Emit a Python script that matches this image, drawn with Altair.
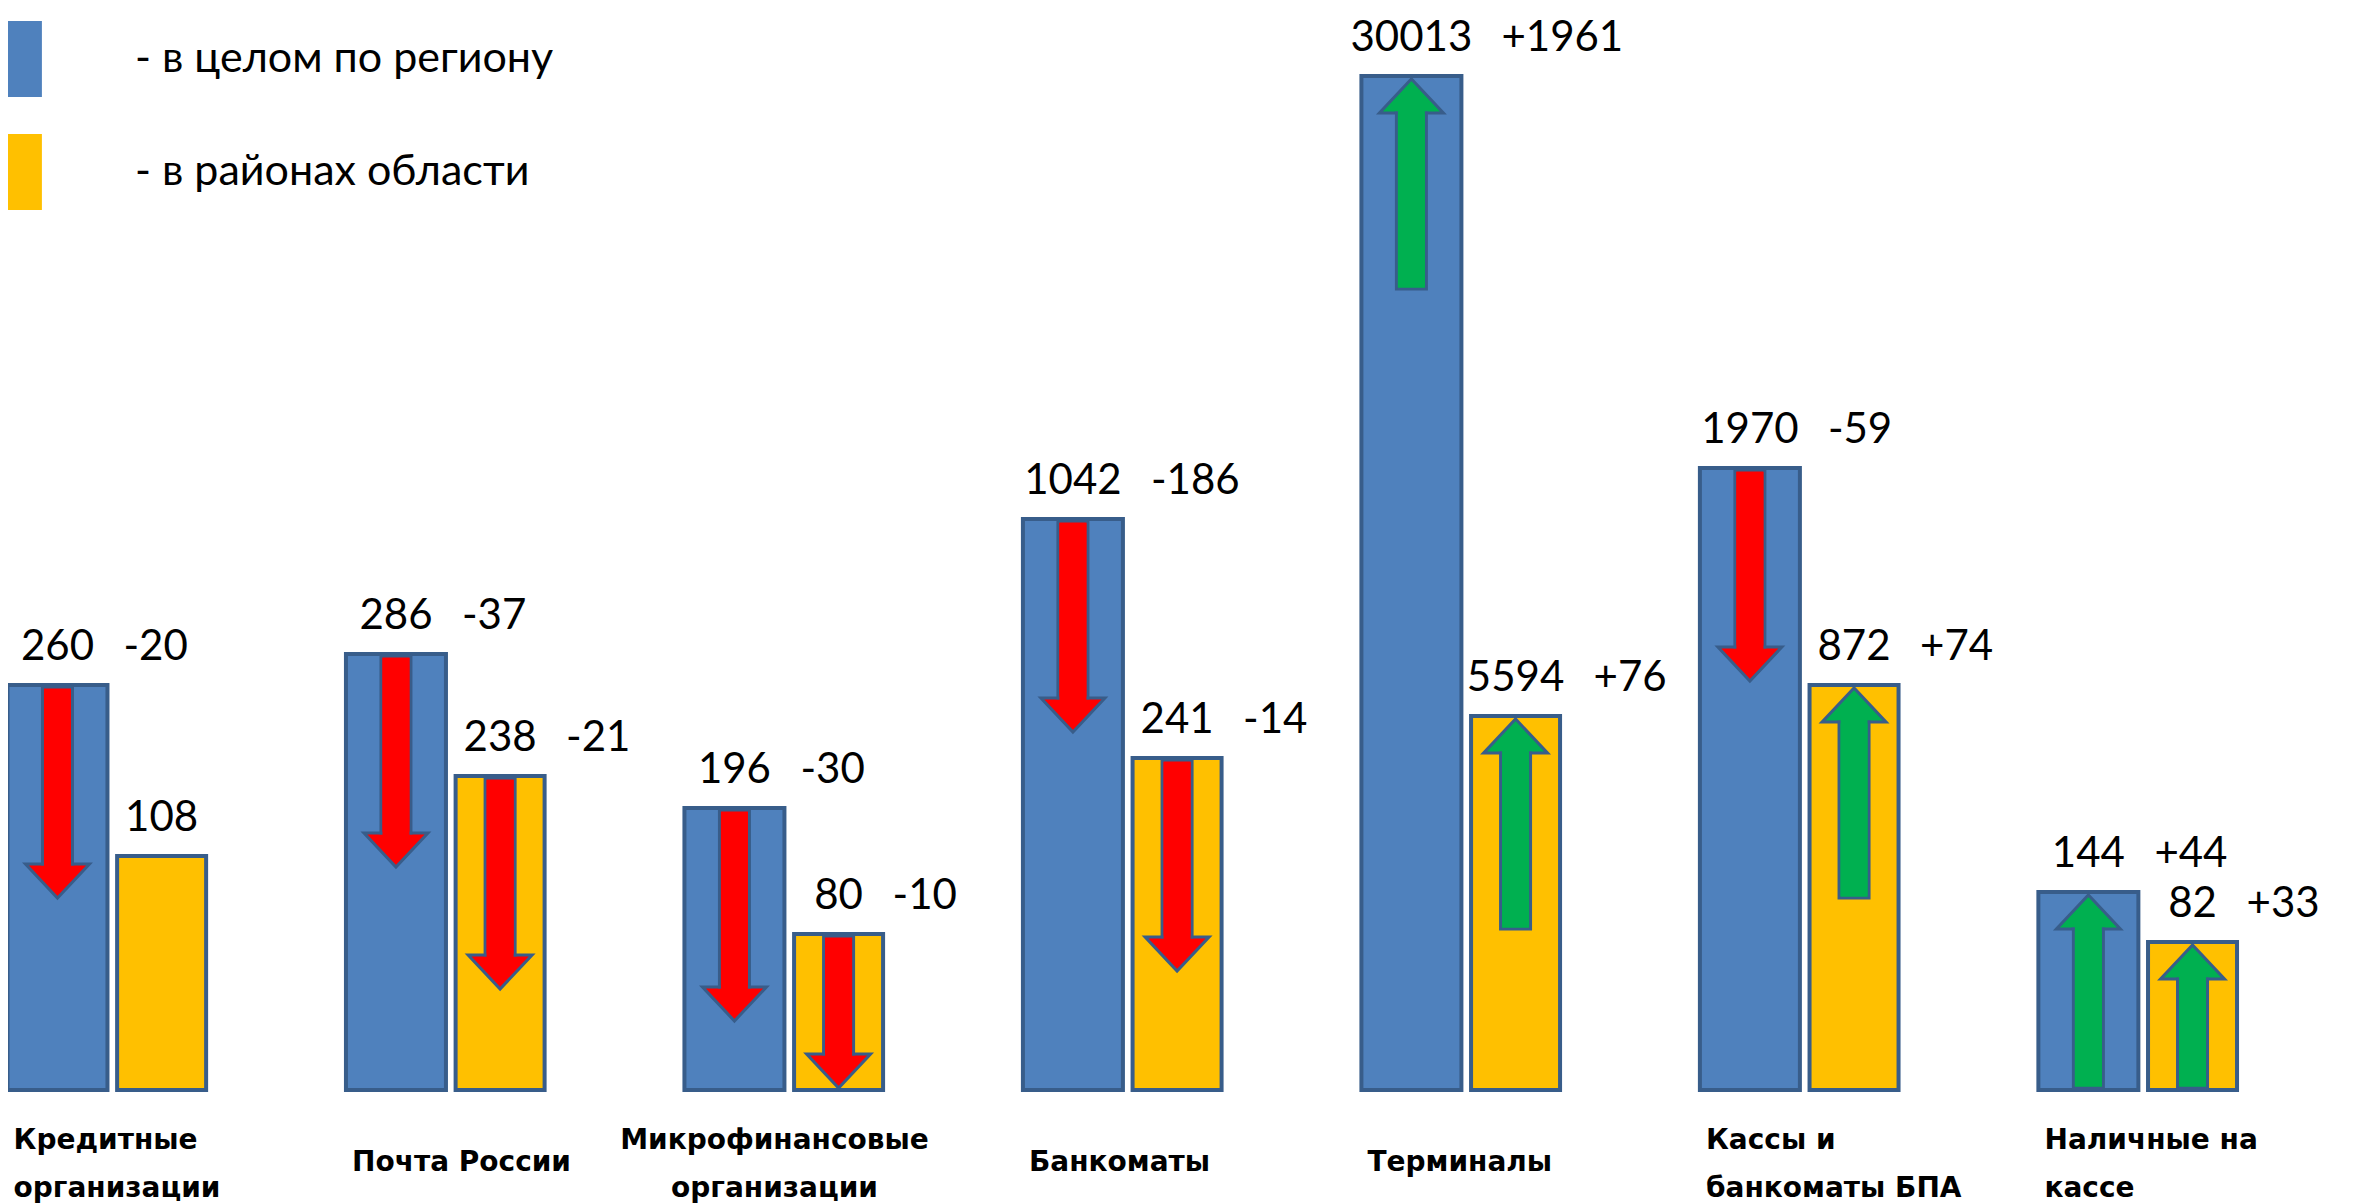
import altair as alt
import pandas as pd

# ---------------- data ----------------
categories = ["Кредитные\nорганизации", "Почта России", "Микрофинансовые\nорганизации",
              "Банкоматы", "Терминалы", "Кассы и\nбанкоматы БПА", "Наличные на\nкассе"]
series = ["в целом по региону", "в районах области"]

region_count = [260, 286, 196, 1042, 30013, 1970, 144]
region_change = [-20, -37, -30, -186, 1961, -59, 44]
district_count = [108, 238, 80, 241, 5594, 872, 82]
district_change = [None, -21, -10, -14, 76, 74, 33]

# drawn heights of the bars (the infographic is not drawn to scale)
region_bar = [405, 436, 282, 571, 1014, 622, 198]
district_bar = [234, 314, 156, 332, 374, 405, 148]

# ---------------- styling constants ----------------
BLUE, YELLOW = "#4F81BD", "#FFC000"
OUTLINE = "#385D8A"
RED, GREEN = "#FF0000", "#00B050"
ARROW_LEN, HEAD_H, TOP_GAP = 210, 34, 3
NUM_FONT = "Lato"
CAT_FONT = "DejaVu Sans"
NUM_SIZE = 42

rows = []
for i, cat in enumerate(categories):
    for s, counts, changes, bars in ((series[0], region_count, region_change, region_bar),
                                     (series[1], district_count, district_change, district_bar)):
        h = bars[i]
        ch = changes[i]
        r = dict(category=cat, series=s, h=h, count=str(counts[i]),
                 change="" if ch is None else f"{ch:+d}")
        if ch is not None:
            L = min(ARROW_LEN, h - TOP_GAP - 2)
            if ch < 0:
                tip = h - TOP_GAP - L
                r.update(dir="down", head=tip + HEAD_H / 2,
                         sa=h - TOP_GAP + 1, sb=tip + HEAD_H,
                         ca=h - TOP_GAP - 1, cb=tip + HEAD_H - 5)
            else:
                tip = h - TOP_GAP
                r.update(dir="up", head=tip - HEAD_H / 2,
                         sa=tip - HEAD_H, sb=tip - L,
                         ca=tip - HEAD_H + 5, cb=tip - L + 1.5)
        rows.append(r)
df = pd.DataFrame(rows)
arrows = df[df["change"] != ""]

W, H = 2234, 1082

is_micro = "indexof(datum.value, 'Микро') >= 0"
is_two_lines = "indexof(datum.value, '\\n') >= 0"

X = alt.X("category:N", sort=categories, title=None,
          scale=alt.Scale(domain=categories, paddingInner=0.4, paddingOuter=0),
          axis=alt.Axis(domain=False, ticks=False, tickSize=0, grid=False, labelAngle=0,
                        labelExpr="split(datum.label, '\\n')",
                        labelFont=CAT_FONT, labelFontWeight="bold", labelFontSize=28,
                        labelColor="black", labelLineHeight=48,
                        labelBaseline={"condition": {"test": is_two_lines, "value": "alphabetic"},
                                       "value": "top"},
                        labelPadding=58, labelLimit=0, labelOverlap=False, labelFlush=False,
                        labelAlign={"condition": {"test": is_micro, "value": "center"},
                                    "value": "left"},
                        labelOffset={"condition": {"test": is_micro, "value": -12},
                                     "value": -96}))
XO = alt.XOffset("series:N", sort=series,
                 scale=alt.Scale(domain=series, paddingInner=0.05, paddingOuter=0))
YS = alt.Scale(domain=[0, H], nice=False, zero=False)
Yh = alt.Y("h:Q", scale=YS, axis=None)

color = alt.Color("series:N", scale=alt.Scale(domain=series, range=[BLUE, YELLOW]),
                  legend=alt.Legend(title=None, orient="none", legendX=-25, legendY=13,
                                    symbolType="M-0.55,-1H0.55V1H-0.55Z", symbolSize=5776,
                                    symbolStrokeWidth=0, symbolOpacity=1,
                                    labelFont=NUM_FONT, labelFontSize=43, labelColor="black",
                                    labelOffset=76, rowPadding=37, padding=0, labelLimit=0,
                                    labelExpr="'- ' + datum.label"))

base = alt.Chart(df)

bars_blue = base.transform_filter(alt.datum.series == series[0]).mark_bar(
    width=100, stroke=OUTLINE, strokeWidth=4).encode(x=X, xOffset=XO, y=Yh, color=color)
bars_yellow = base.transform_filter(alt.datum.series == series[1]).mark_bar(
    width=89, stroke=OUTLINE, strokeWidth=4).encode(x=X, xOffset=XO, y=Yh, color=color)

fill = alt.Fill("dir:N", scale=alt.Scale(domain=["down", "up"], range=[RED, GREEN]), legend=None)
shape = alt.Shape("dir:N", scale=alt.Scale(domain=["down", "up"],
                                          range=["M-1,-0.53L1,-0.53L0,0.53Z",
                                                 "M-1,0.53L1,0.53L0,-0.53Z"]), legend=None)

aw = alt.Chart(arrows)
heads = aw.mark_point(filled=True, size=4096, opacity=1, stroke=OUTLINE, strokeWidth=3).encode(
    x=X, xOffset=XO, y=alt.Y("head:Q", scale=YS, axis=None), fill=fill, shape=shape)
shafts = aw.mark_bar(width=30, stroke=OUTLINE, strokeWidth=3).encode(
    x=X, xOffset=XO, y=alt.Y("sa:Q", scale=YS, axis=None), y2="sb:Q", fill=fill)
covers = aw.mark_bar(width=27, strokeWidth=0).encode(
    x=X, xOffset=XO, y=alt.Y("ca:Q", scale=YS, axis=None), y2="cb:Q", fill=fill)

counts_txt = base.mark_text(font=NUM_FONT, fontSize=NUM_SIZE, baseline="alphabetic",
                            align="center", dy=-25, color="black").encode(
    x=X, xOffset=XO, y=Yh, text="count:N")

# change labels sit just right of the count label; shift depends on the count's digit count
change_layers = []
for n in range(2, 6):
    change_layers.append(
        base.transform_filter(f"length(datum.count) == {n}").mark_text(
            font=NUM_FONT, fontSize=NUM_SIZE, baseline="alphabetic", align="left",
            dy=-25, dx=12 * n + 30, color="black").encode(
            x=X, xOffset=XO, y=Yh, text="change:N"))

chart = alt.layer(bars_blue, bars_yellow, heads, shafts, covers, counts_txt,
                  *change_layers).properties(
    width=W, height=H,
    padding={"left": 0, "top": 0, "right": 92, "bottom": 114},
    autosize=alt.AutoSizeParams(type="none"),
    background="white",
).configure_view(stroke=None)

chart.save("out.html", embed_options={"renderer": "svg", "actions": False})
